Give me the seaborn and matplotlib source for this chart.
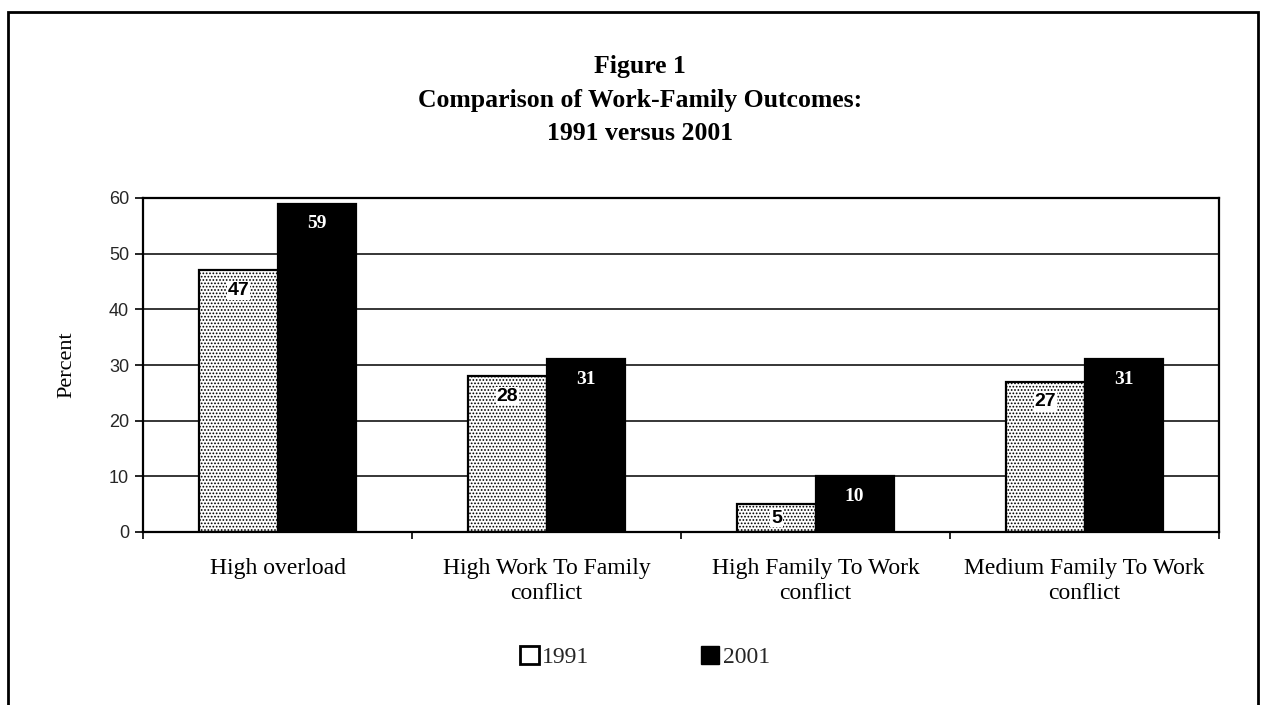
import numpy as np
import pandas as pd
import matplotlib
matplotlib.use('Agg')
import matplotlib.pyplot as plt
import seaborn as sns
from matplotlib.patches import Patch, Rectangle

# data
categories = ['High overload', 'High Work To Family\nconflict',
              'High Family To Work\nconflict', 'Medium Family To Work\nconflict']
years = ['1991', '2001']
values_1991 = [47, 28, 5, 27]
values_2001 = [59, 31, 10, 31]
title_lines = ['Figure 1', 'Comparison of Work-Family Outcomes:', '1991 versus 2001']

df = pd.DataFrame({
    'category': categories * 2,
    'year': ['1991'] * len(categories) + ['2001'] * len(categories),
    'percent': values_1991 + values_2001,
})

sns.set_theme(style='white')
plt.rcParams['font.family'] = ['Liberation Serif', 'DejaVu Serif']
plt.rcParams['hatch.linewidth'] = 0.8

W, H = 1261, 705
fig = plt.figure(figsize=(W / 100, H / 100), dpi=100)
ax = fig.add_axes([143 / W, 1 - 532 / H, (1219 - 143) / W, (532 - 198) / H])

sns.barplot(data=df, x='category', y='percent', hue='year', order=categories,
            hue_order=years, palette={'1991': 'white', '2001': 'black'},
            width=0.58, edgecolor='black', linewidth=1.6, saturation=1,
            legend=False, ax=ax)

# stipple texture on the 1991 bars
for bar in ax.containers[0]:
    bar.set_hatch('.....')

# value labels inside the bars
for bar, v in zip(ax.containers[0], values_1991):
    y = v - 3.6 if v > 8 else v / 2
    ax.text(bar.get_x() + bar.get_width() / 2, y, str(v), ha='center', va='center',
            fontsize=14, fontweight='bold', family=['Liberation Sans', 'DejaVu Sans'],
            color='black', bbox=dict(facecolor='white', edgecolor='none', pad=0.5))
for bar, v in zip(ax.containers[1], values_2001):
    y = v - 3.6 if v > 8 else v / 2
    ax.text(bar.get_x() + bar.get_width() / 2, y, str(v), ha='center', va='center',
            fontsize=14, fontweight='bold', color='white')

ax.set_ylim(0, 60)
ax.set_xlim(-0.5, len(categories) - 0.5)
ax.set_yticks(np.arange(0, 61, 10))
ax.yaxis.grid(True, color='black', linewidth=1.1)
ax.set_axisbelow(True)
for s in ax.spines.values():
    s.set_visible(True)
    s.set_color('black')
    s.set_linewidth(1.6)

ax.set_xticks(range(len(categories)))
ax.set_xticklabels(categories, fontsize=17, linespacing=1.25)
ax.set_xticks(np.arange(-0.5, len(categories), 1.0), minor=True)
ax.tick_params(axis='x', which='major', length=0, pad=19, colors='black')
ax.tick_params(axis='x', which='minor', bottom=True, length=5, width=1.2,
               direction='out', color='black')
ax.tick_params(axis='y', left=True, length=6, width=1.2, direction='out',
               color='black', labelsize=13, pad=4)
for lbl in ax.get_yticklabels():
    lbl.set_family(['Liberation Sans', 'DejaVu Sans'])

ax.set_xlabel('')
ax.set_ylabel('Percent', fontsize=16, color='black')
ax.yaxis.set_label_coords((76 - 143) / (1219 - 143), 0.5)

for i, line in enumerate(title_lines):
    fig.text(640 / W, 1 - (67 + 33 * i) / H, line, ha='center', va='center',
             fontsize=18.5, fontweight='bold', color='black')

handles = [Patch(facecolor='white', edgecolor='black', linewidth=2),
           Patch(facecolor='black', edgecolor='black')]
fig.legend(handles, years, loc='center', bbox_to_anchor=(645 / W, 1 - 657 / H),
           ncol=2, frameon=False, fontsize=17, columnspacing=4.7,
           handlelength=0.8, handleheight=0.8, handletextpad=0.15)

# outer frame of the chart area
fig.patches.append(Rectangle((8 / W, -0.05), (1258 - 8) / W, 1.05 - 12 / H,
                             transform=fig.transFigure, fill=False,
                             edgecolor='black', linewidth=2, clip_on=False))

fig.savefig('out.png', dpi=100)
